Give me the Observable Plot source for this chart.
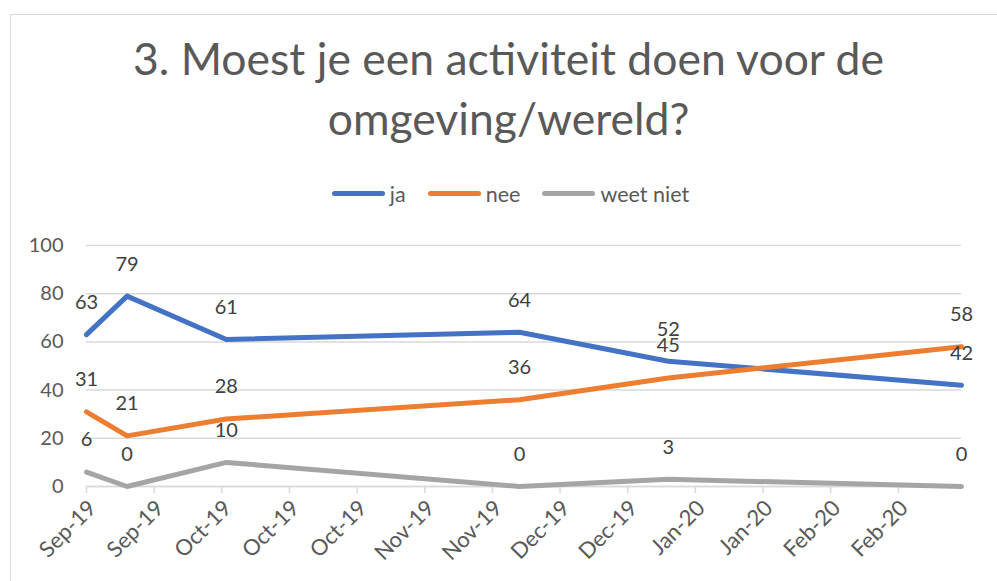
<!DOCTYPE html>
<html>
<head>
<meta charset="utf-8">
<script src="https://cdn.jsdelivr.net/npm/d3@7"></script>
<script src="https://cdn.jsdelivr.net/npm/@observablehq/plot@0.6"></script>
<style>
  html, body { margin: 0; padding: 0; background: #fff; }
  #wrap { position: relative; width: 997px; height: 581px; overflow: hidden; font-family: Lato, "Open Sans", sans-serif; }
  #border { position: absolute; left: 10px; top: 14px; width: 1000px; height: 600px; border: 1.5px solid #d9d9d9; box-sizing: border-box; pointer-events: none; }
  #title { height: 172px; box-sizing: border-box; padding-top: 28px; margin: 0; text-align: center; font-size: 44.5px; line-height: 60px; font-weight: normal; color: #595959; padding-left: 20px; }
  #legend { height: 43px; display: flex; justify-content: center; align-items: center; font-size: 21.5px; color: #595959; padding-left: 24px; }
  .item { display: flex; align-items: center; margin: 0 11px; }
  .sw { width: 53px; height: 5px; border-radius: 3px; margin-right: 5px; }
  #chart svg { display: block; }
</style>
</head>
<body>
<div id="wrap">
  <div id="border"></div>
  <h1 id="title">3. Moest je een activiteit doen voor de<br>omgeving/wereld?</h1>
  <div id="legend"></div>
  <div id="chart"></div>
</div>
<script>
const series = ["ja", "nee", "weet niet"];
const colors = ["#4472C4", "#ED7D31", "#A5A5A5"];
const dates = ["2019-09-01", "2019-09-10", "2019-10-02", "2019-12-06", "2020-01-08", "2020-03-13"];
const ja = [63, 79, 61, 64, 52, 42];
const nee = [31, 21, 28, 36, 45, 58];
const weetNiet = [6, 0, 10, 0, 3, 0];
const xTickDates = ["2019-09-01", "2019-09-16", "2019-10-01", "2019-10-16", "2019-10-31", "2019-11-15", "2019-11-30",
                    "2019-12-15", "2019-12-30", "2020-01-14", "2020-01-29", "2020-02-13", "2020-02-28"];
const xDomain = ["2019-09-01", "2020-03-13"];
const yTicks = [0, 20, 40, 60, 80, 100];

const parse = d3.utcParse("%Y-%m-%d");
const fmt = d3.utcFormat("%b-%y");
const valuesBySeries = [ja, nee, weetNiet];
const rows = [];
series.forEach((s, i) => dates.forEach((d, j) => rows.push({date: parse(d), value: valuesBySeries[i][j], series: s})));
const xTicks = xTickDates.map(parse);

// legend
const legend = document.getElementById("legend");
series.forEach((s, i) => {
  const it = document.createElement("div");
  it.className = "item";
  const sw = document.createElement("span");
  sw.className = "sw";
  sw.style.background = colors[i];
  const tx = document.createElement("span");
  tx.textContent = s;
  it.appendChild(sw); it.appendChild(tx);
  legend.appendChild(it);
});

const chart = Plot.plot({
  width: 997,
  height: 366,
  marginLeft: 86,
  marginRight: 36,
  marginTop: 30,
  marginBottom: 95,
  style: {fontFamily: "Lato, 'Open Sans', sans-serif", fontSize: "18px", color: "#595959", background: "transparent", overflow: "visible"},
  x: {type: "utc", domain: xDomain.map(parse)},
  y: {domain: [0, 100]},
  color: {domain: series, range: colors},
  marks: [
    Plot.gridY(yTicks, {stroke: "#d9d9d9", strokeOpacity: 1, strokeWidth: 1.5}),
    Plot.axisY(yTicks, {tickSize: 0, tickPadding: 23, label: null, fill: "#595959", fontSize: 20}),
    Plot.axisX(xTicks, {tickSize: 7, tickFormat: null, text: null, stroke: "#d9d9d9", strokeWidth: 1.5, label: null}),
    Plot.axisX(xTicks, {tickSize: 0, tickFormat: fmt, tickRotate: -45, tickPadding: 18, dx: 6, label: null, fill: "#595959", fontSize: 22}),
    Plot.ruleY([0], {stroke: "#d9d9d9", strokeWidth: 1.5}),
    Plot.lineY(rows, {x: "date", y: "value", z: "series", stroke: "series", strokeWidth: 5, strokeLinecap: "round", strokeLinejoin: "round"}),
    Plot.text(rows, {x: "date", y: "value", text: d => String(d.value), dy: -32, fill: "#404040", fontSize: 20})
  ]
});
document.getElementById("chart").appendChild(chart);
</script>
</body>
</html>
